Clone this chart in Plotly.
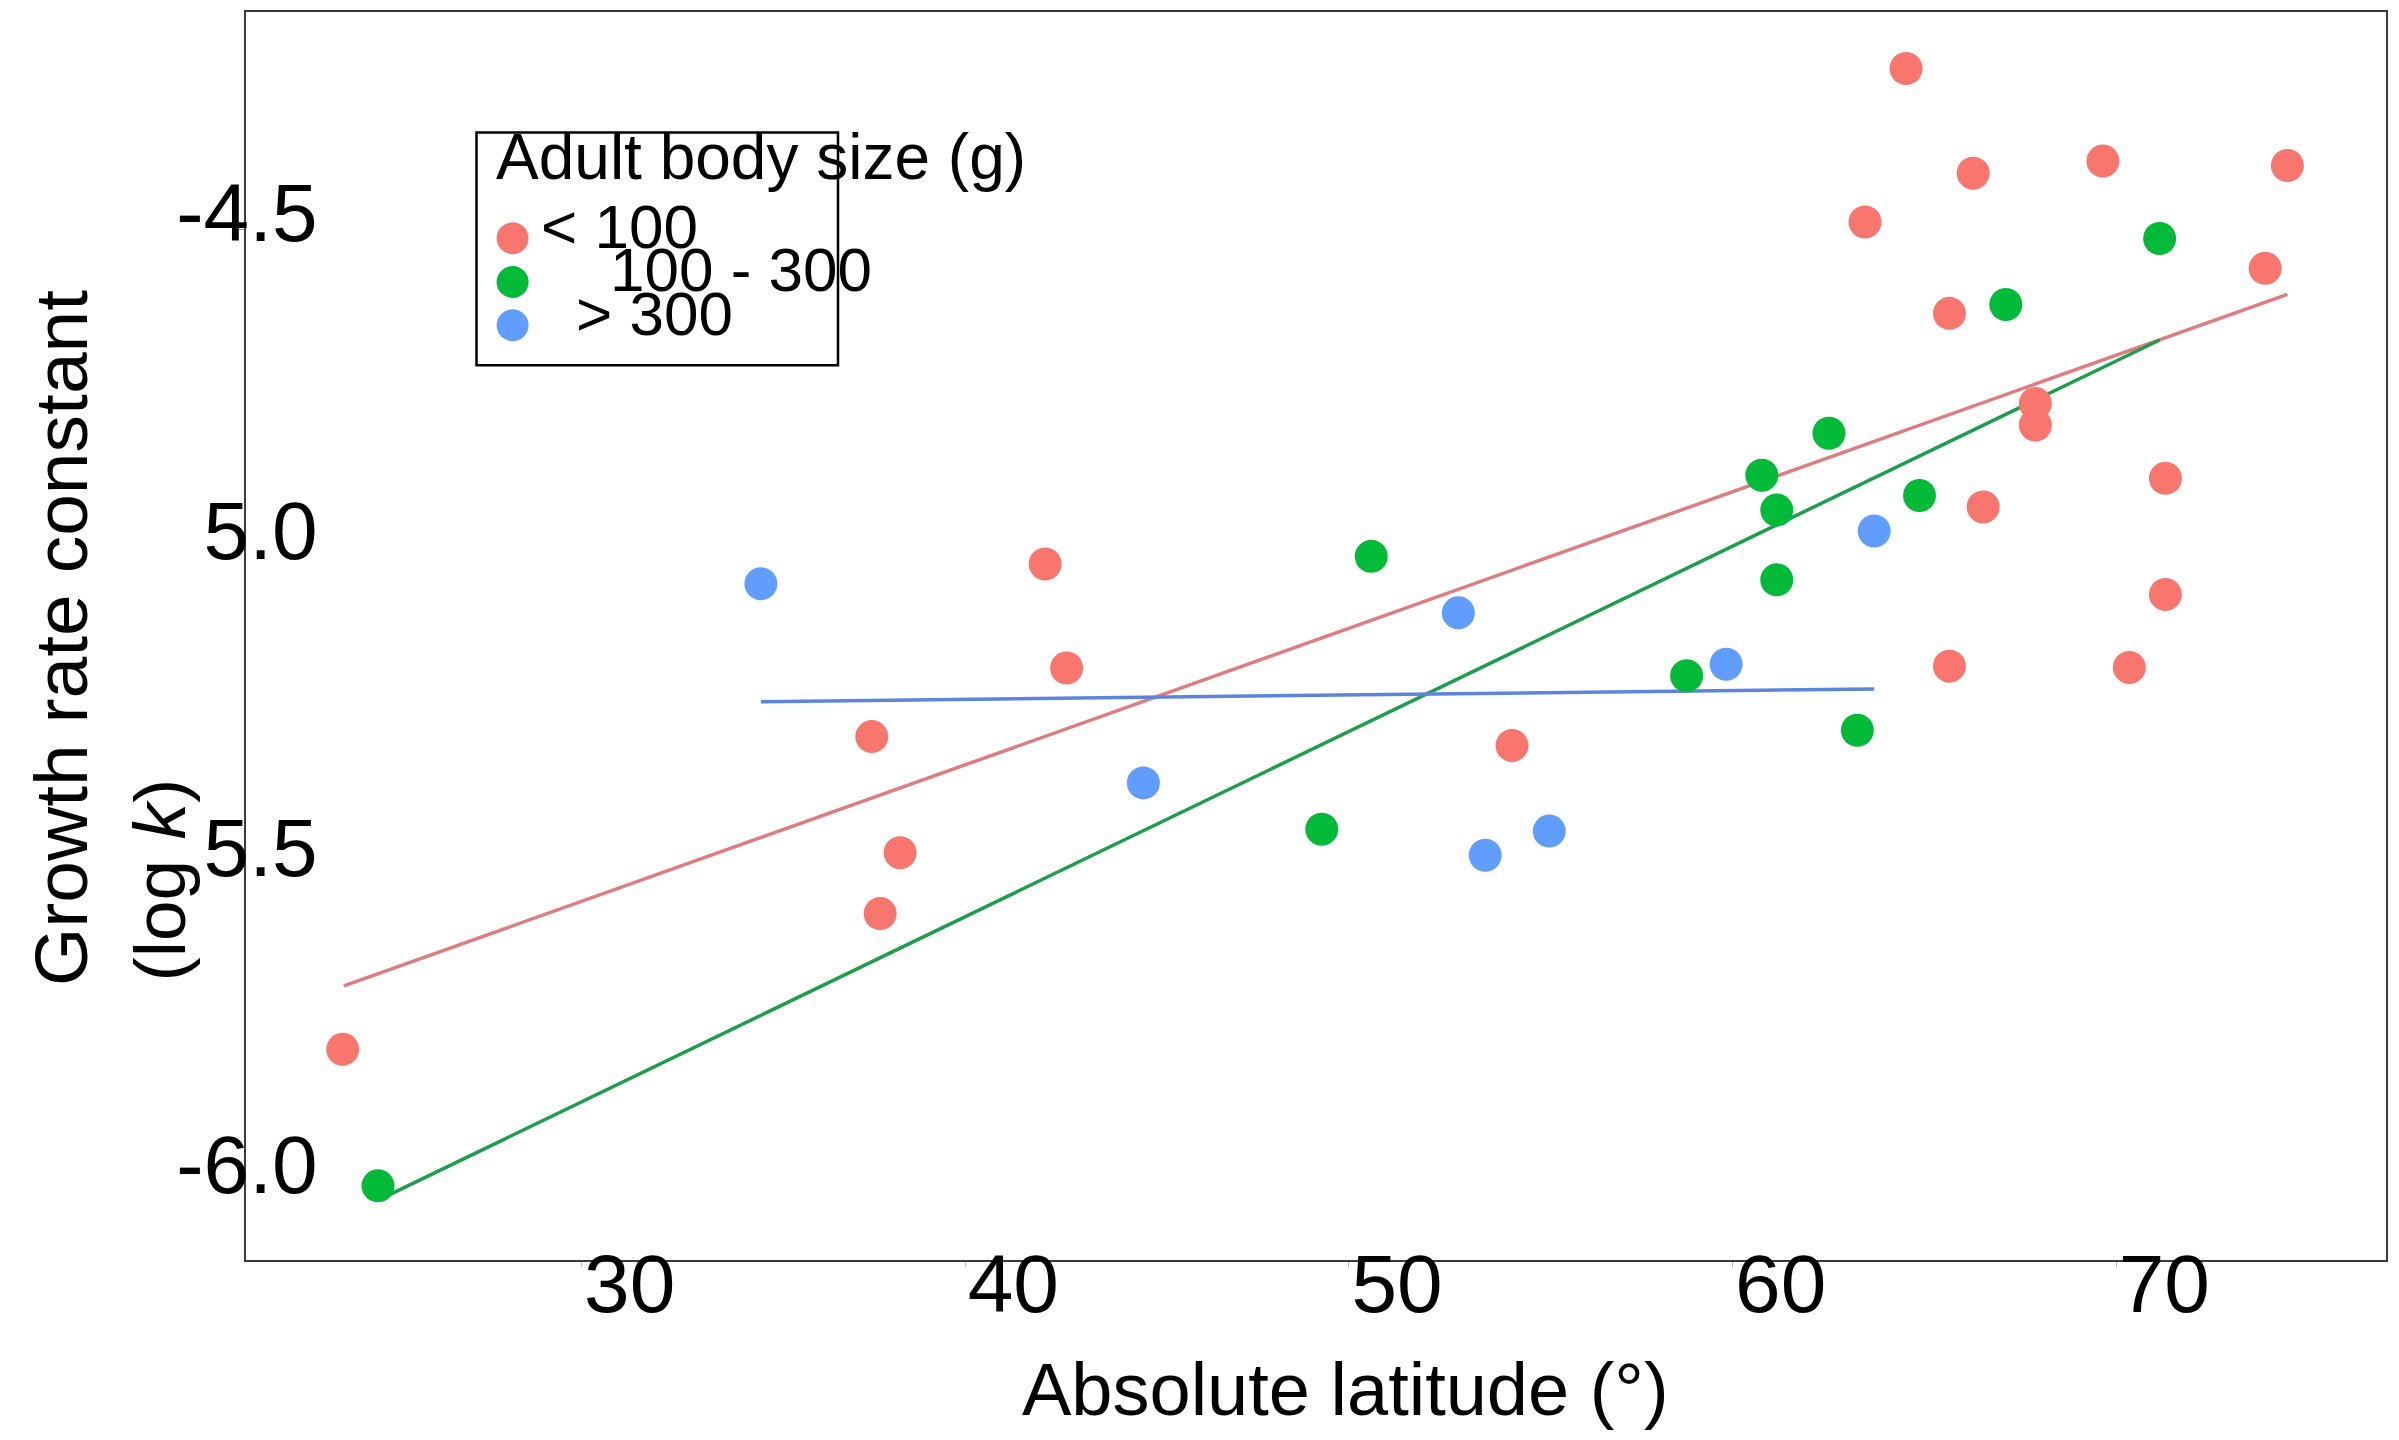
import plotly.graph_objects as go

# ---------------- data ----------------
size_classes = ["< 100", "100 - 300", "> 300"]

small_lat = [23.77, 37.56, 37.78, 38.30, 42.08, 42.64, 54.25, 63.45, 64.52, 65.65, 65.65,
             66.27, 66.53, 67.89, 67.89, 69.65, 70.34, 71.28, 71.28, 73.88, 74.46]
small_logk = [-5.792, -5.299, -5.578, -5.482, -5.027, -5.191, -5.313, -4.488, -4.246, -4.632, -5.188,
              -4.411, -4.937, -4.774, -4.808, -4.392, -5.190, -4.892, -5.075, -4.561, -4.399]

mid_lat = [24.69, 49.29, 50.58, 58.80, 60.76, 61.15, 61.15, 62.51, 63.25, 64.87, 67.12, 71.13]
mid_logk = [-6.007, -5.445, -5.015, -5.203, -4.887, -4.942, -5.052, -4.821, -5.289, -4.919, -4.618, -4.514]

large_lat = [34.67, 44.64, 52.85, 53.55, 55.22, 59.83, 63.69]
large_logk = [-5.058, -5.372, -5.104, -5.486, -5.448, -5.185, -4.975]

# fitted trend lines (end points)
small_fit_lat = [23.80, 74.46]
small_fit_logk = [-5.692, -4.602]
mid_fit_lat = [24.75, 71.13]
mid_fit_logk = [-6.028, -4.674]
large_fit_lat = [34.67, 63.69]
large_fit_logk = [-5.244, -5.224]

x_ticks = [30, 40, 50, 60, 70]
y_ticks = [-4.5, -5.0, -5.5, -6.0]
y_ticktext = ["-4.5", "5.0", "5.5", "-6.0"]

# ---------------- style ----------------
FONT = "Liberation Sans, Arial, sans-serif"
point_colors = ["#F8766D", "#00BA38", "#619CFF"]
line_colors = ["#DE7C80", "#1E9E4C", "#5B84DE"]

# page has an 8px body margin: plot area in page pixels is x 246..2386, y 10..1260
BODY = 8
W, H = 2399 - 2 * BODY, 1440 - 2 * BODY
PX0, PX1, PY0, PY1 = 246, 2386, 10, 1260
L = PX0 - BODY
T = PY0 - BODY
R = W - (PX1 - BODY)
B = H - (PY1 - BODY)
PW, PH = PX1 - PX0, PY1 - PY0


def px(X):
    return (X - PX0) / PW


def py(Y):
    return (PY1 - Y) / PH


fig = go.Figure()

fits = [(small_fit_lat, small_fit_logk), (mid_fit_lat, mid_fit_logk), (large_fit_lat, large_fit_logk)]
pts = [(small_lat, small_logk), (mid_lat, mid_logk), (large_lat, large_logk)]

for i, (fx, fy) in enumerate(fits):
    fig.add_trace(go.Scatter(x=fx, y=fy, mode="lines", showlegend=False,
                             line=dict(color=line_colors[i], width=3.5), hoverinfo="skip"))
for i, (xx, yy) in enumerate(pts):
    fig.add_trace(go.Scatter(x=xx, y=yy, mode="markers", name=size_classes[i], showlegend=False,
                             marker=dict(color=point_colors[i], size=33, line=dict(width=0))))

fig.update_layout(
    width=W, height=H,
    margin=dict(l=L, r=R, t=T, b=B, pad=0),
    paper_bgcolor="white", plot_bgcolor="white",
    font=dict(family=FONT, color="black"),
    showlegend=False,
)

fig.update_xaxes(range=[21.25, 77.03], tickvals=x_ticks, showgrid=False, zeroline=False,
                 showline=True, mirror=True, linecolor="#3a3a3a", linewidth=2,
                 ticks="outside", ticklen=5, tickcolor="#bbbbbb", tickwidth=1,
                 tickfont=dict(size=82, family=FONT, color="black"),
                 ticklabelshift=48, ticklabelstandoff=-53)
fig.update_yaxes(range=[-6.124, -4.157], tickvals=y_ticks, ticktext=y_ticktext, showgrid=False,
                 zeroline=False, showline=True, mirror=True, linecolor="#3a3a3a", linewidth=2,
                 ticks="outside", ticklen=5, tickcolor="#999999", tickwidth=1,
                 tickfont=dict(size=82, family=FONT, color="black"),
                 ticklabelshift=-17, ticklabelstandoff=-95)

ann = []
# axis titles
ann.append(dict(text="Absolute latitude (°)", x=px(1346), y=py(1390), xref="paper", yref="paper",
                xanchor="center", yanchor="middle", showarrow=False,
                font=dict(size=74, family=FONT, color="black")))
ann.append(dict(text="Growth rate constant", x=px(61), y=py(637), xref="paper", yref="paper",
                xanchor="center", yanchor="middle", showarrow=False, textangle=-90,
                font=dict(size=75, family=FONT, color="black")))
ann.append(dict(text="(log <i>k</i>)", x=px(160), y=py(880), xref="paper", yref="paper",
                xanchor="center", yanchor="middle", showarrow=False, textangle=-90,
                font=dict(size=73, family=FONT, color="black")))

# legend (drawn manually to match the reference layout)
ann.append(dict(text="Adult body size (g)", x=px(494), y=py(155), xref="paper", yref="paper",
                xanchor="left", yanchor="middle", showarrow=False,
                font=dict(size=64, family=FONT, color="black")))
legend_text_pos = [(539, 225), (608, 268), (574, 312)]
legend_marker_y = [236.6, 280.4, 323.7]
shapes = [dict(type="rect", xref="paper", yref="paper", x0=px(476.5), x1=px(838),
               y0=py(130.8), y1=py(363.8), line=dict(color="black", width=2.5),
               fillcolor="rgba(0,0,0,0)")]
for i, name in enumerate(size_classes):
    tx, ty = legend_text_pos[i]
    ann.append(dict(text=name, x=px(tx), y=py(ty), xref="paper", yref="paper",
                    xanchor="left", yanchor="middle", showarrow=False,
                    font=dict(size=62, family=FONT, color="black")))
    shapes.append(dict(type="circle", xref="paper", yref="paper",
                       xsizemode="pixel", ysizemode="pixel",
                       xanchor=px(512.6), yanchor=py(legend_marker_y[i]),
                       x0=-16, x1=16, y0=-16, y1=16,
                       fillcolor=point_colors[i], line=dict(width=0)))

fig.update_layout(annotations=ann, shapes=shapes)
fig.write_html("out.html")
